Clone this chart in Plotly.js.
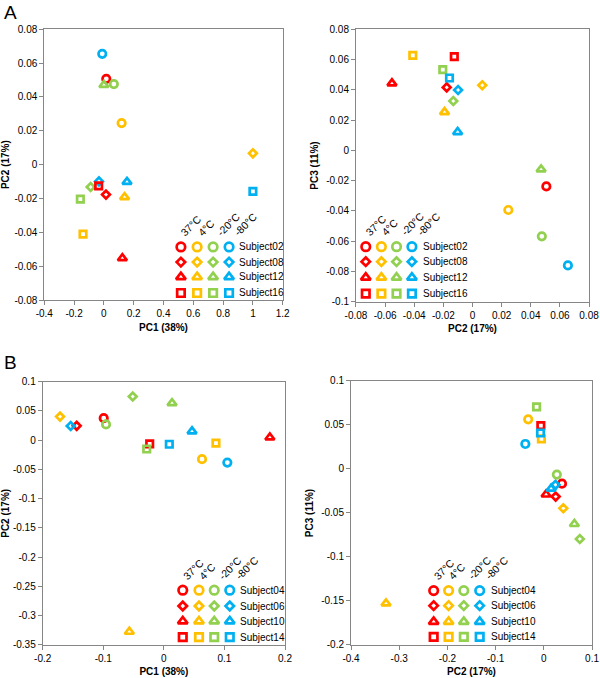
<!DOCTYPE html>
<html>
<head>
<meta charset="utf-8">
<script src="https://cdn.plot.ly/plotly-3.0.1.min.js"></script>
<style>
  body { margin: 0; background: #fff; }
  #chart { width: 600px; height: 678px; }
</style>
</head>
<body>
<div id="chart"></div>
<script>
// storage temperatures (one colour each) and subjects (one symbol each)
const temps = ["37°C", "4°C", "-20°C", "-80°C"];
const subjectsA = ["Subject02", "Subject08", "Subject12", "Subject16"];
const subjectsB = ["Subject04", "Subject06", "Subject10", "Subject14"];

// PCA scores, 4 values per subject in temperature order 37, 4, -20, -80
const pc1A = [
  0.016, 0.119, 0.067, -0.011,   // Subject02
  0.014, 1.0, -0.089, -0.033,    // Subject08
  0.124, 0.139, 0.0, 0.155,      // Subject12
  -0.035, -0.14, -0.158, 1.0,    // Subject16
];
const pc2A = [
  0.0507, 0.0246, 0.0476, 0.0655,
  -0.0177, 0.0067, -0.0132, -0.0099,
  -0.0553, -0.0192, 0.0471, -0.0102,
  -0.0125, -0.041, -0.0204, -0.0158,
];
const pc3A = [
  -0.0238, -0.0394, -0.0568, -0.076,
  0.0416, 0.043, 0.0326, 0.0399,
  0.0443, 0.0253, -0.0126, 0.0121,
  0.0619, 0.0628, 0.0533, 0.0478,
];

const pc1B = [
  -0.0993, 0.063, -0.0955, 0.1048,  // Subject04
  -0.1439, -0.1714, -0.0514, -0.1538, // Subject06
  0.175, -0.057, 0.0135, 0.0465,    // Subject10
  -0.0234, 0.086, -0.0283, 0.009,   // Subject14
];
const pc2B = [
  0.0377, -0.0324, 0.027, -0.0383,
  0.0246, 0.0404, 0.0747, 0.0242,
  0.0047, -0.3274, 0.0634, 0.0152,
  -0.0062, -0.005, -0.015, -0.0069,
];
const pc3B = [
  -0.0167, 0.0564, -0.0064, 0.0284,
  -0.0314, -0.0447, -0.0795, -0.018,
  -0.029, -0.1527, -0.0625, -0.0224,
  0.0492, 0.0341, 0.0705, 0.0409,
];

// tick values
const ticksA1x = [-0.4, -0.2, 0, 0.2, 0.4, 0.6, 0.8, 1, 1.2];
const ticksA1y = [-0.08, -0.06, -0.04, -0.02, 0, 0.02, 0.04, 0.06, 0.08];
const ticksA2x = [-0.08, -0.06, -0.04, -0.02, 0, 0.02, 0.04, 0.06, 0.08];
const ticksA2y = [-0.1, -0.08, -0.06, -0.04, -0.02, 0, 0.02, 0.04, 0.06, 0.08];
const ticksB1x = [-0.2, -0.1, 0, 0.1, 0.2];
const ticksB1y = [-0.35, -0.3, -0.25, -0.2, -0.15, -0.1, -0.05, 0, 0.05, 0.1];
const ticksB2x = [-0.4, -0.3, -0.2, -0.1, 0, 0.1];
const ticksB2y = [-0.2, -0.15, -0.1, -0.05, 0, 0.05, 0.1];

// --- styles ---
const FONT = "Liberation Sans, Arial, sans-serif";
const tempColors = ["#ff0000", "#ffc000", "#92d050", "#00b0f0"];
const symbols = ["circle-open", "diamond-open", "triangle-up-open", "square-open"];
const symbolSize = [7.5, 6, 8, 6.5];
const legendSize = [8.5, 6.5, 8.5, 7.5];
const AXIS_GRAY = "#868686";

// panels: axis ids, domains (paper) and legend grid (fraction of plot area)
const panels = [
  {
    x: "x", y: "y", lx: "x5", ly: "y5",
    xdom: [0.0738, 0.4712], ydom: [0.5575, 0.9568],
    xs: pc1A, ys: pc2A, subjects: subjectsA,
    xt: ticksA1x, yt: ticksA1y, xtitle: "PC1 (38%)", ytitle: "PC2 (17%)",
    cols: [0.573, 0.641, 0.708, 0.775], labelX: 0.808, rows: [0.196, 0.14, 0.085, 0.026],
  },
  {
    x: "x2", y: "y2", lx: "x6", ly: "y6",
    xdom: [0.5933, 0.9817], ydom: [0.555, 0.9568],
    xs: pc2A, ys: pc3A, subjects: subjectsA,
    xt: ticksA2x, yt: ticksA2y, xtitle: "PC2 (17%)", ytitle: "PC3 (11%)",
    cols: [0.042, 0.109, 0.174, 0.24], labelX: 0.277, rows: [0.202, 0.147, 0.089, 0.03],
  },
  {
    x: "x3", y: "y3", lx: "x7", ly: "y7",
    xdom: [0.0712, 0.475], ydom: [0.0487, 0.437],
    xs: pc1B, ys: pc2B, subjects: subjectsB,
    xt: ticksB1x, yt: ticksB1y, xtitle: "PC1 (38%)", ytitle: "PC2 (17%)",
    cols: [0.578, 0.645, 0.708, 0.772], labelX: 0.808, rows: [0.208, 0.148, 0.09, 0.03],
  },
  {
    x: "x4", y: "y4", lx: "x8", ly: "y8",
    xdom: [0.585, 0.9867], ydom: [0.0487, 0.4381],
    xs: pc2B, ys: pc3B, subjects: subjectsB,
    xt: ticksB2x, yt: ticksB2y, xtitle: "PC2 (17%)", ytitle: "PC3 (11%)",
    cols: [0.343, 0.405, 0.468, 0.534], labelX: 0.571, rows: [0.206, 0.149, 0.088, 0.031],
  },
];

// small nudges for the rotated temperature headers (px)
const headerShiftX = [-5, -5, -1, 0];

function axisName(id) {
  return id.replace(/^x/, "xaxis").replace(/^y/, "yaxis");
}

function makeAxis(p, dir) {
  const ticks = dir === "x" ? p.xt : p.yt;
  return {
    domain: dir === "x" ? p.xdom : p.ydom,
    anchor: dir === "x" ? p.y : p.x,
    range: [ticks[0], ticks[ticks.length - 1]],
    tickmode: "array",
    tickvals: ticks,
    ticktext: ticks.map(String),
    ticklabeloverflow: "allow",
    showgrid: false,
    zeroline: false,
    showline: true,
    mirror: true,
    linecolor: AXIS_GRAY,
    linewidth: 1,
    ticks: "outside",
    ticklen: 4,
    tickcolor: AXIS_GRAY,
    tickfont: { family: FONT, size: 10, color: "#000" },
    title: {
      text: dir === "x" ? p.xtitle : p.ytitle,
      font: { family: FONT, size: 10, color: "#000", weight: "bold" },
      standoff: 5,
    },
    fixedrange: true,
  };
}

const traces = [];
const annotations = [];
const layout = {
  width: 600,
  height: 678,
  margin: { l: 0, r: 0, t: 0, b: 0 },
  paper_bgcolor: "#fff",
  plot_bgcolor: "#fff",
  showlegend: false,
  font: { family: FONT, size: 10, color: "#000" },
};

panels.forEach((p) => {
  layout[axisName(p.x)] = makeAxis(p, "x");
  layout[axisName(p.y)] = makeAxis(p, "y");
  // hidden overlay axes, 0..1 over the plot area, for the in-plot key
  layout[axisName(p.lx)] = { overlaying: p.x, anchor: p.ly, range: [0, 1], visible: false, fixedrange: true };
  layout[axisName(p.ly)] = { overlaying: p.y, anchor: p.lx, range: [0, 1], visible: false, fixedrange: true };

  // score points, one trace per subject
  p.subjects.forEach((name, s) => {
    traces.push({
      type: "scatter",
      mode: "markers",
      name,
      x: p.xs.slice(s * 4, s * 4 + 4),
      y: p.ys.slice(s * 4, s * 4 + 4),
      xaxis: p.x,
      yaxis: p.y,
      hoverinfo: "none",
      marker: {
        symbol: symbols[s],
        size: symbolSize[s],
        color: tempColors,
        line: { width: 2.7 },
      },
    });
  });

  // key: 4x4 grid of symbols
  p.subjects.forEach((name, s) => {
    traces.push({
      type: "scatter",
      mode: "markers",
      x: p.cols,
      y: p.cols.map(() => p.rows[s]),
      xaxis: p.lx,
      yaxis: p.ly,
      hoverinfo: "none",
      marker: {
        symbol: symbols[s],
        size: legendSize[s],
        color: tempColors,
        line: { width: 2.7 },
      },
    });
    annotations.push({
      xref: p.lx, yref: p.ly,
      x: p.labelX, y: p.rows[s],
      xanchor: "left", yanchor: "middle",
      text: name, showarrow: false,
      font: { family: FONT, size: 10, color: "#000" },
    });
  });

  temps.forEach((t, i) => {
    annotations.push({
      xref: p.lx, yref: p.ly,
      x: p.cols[i], y: p.rows[0],
      xanchor: "left", yanchor: "bottom",
      xshift: headerShiftX[i], yshift: 6,
      text: t, textangle: -45, showarrow: false,
      font: { family: FONT, size: 10.5, color: "#000" },
    });
  });
});

// panel letters
annotations.push({
  xref: "paper", yref: "paper", x: 2 / 600, y: 1 - 0 / 678,
  xanchor: "left", yanchor: "top", text: "A", showarrow: false,
  font: { family: FONT, size: 19, color: "#000" },
});
annotations.push({
  xref: "paper", yref: "paper", x: 2 / 600, y: 1 - 350 / 678,
  xanchor: "left", yanchor: "top", text: "B", showarrow: false,
  font: { family: FONT, size: 19, color: "#000" },
});

layout.annotations = annotations;

Plotly.newPlot("chart", traces, layout, { displayModeBar: false, staticPlot: true });
</script>
</body>
</html>
